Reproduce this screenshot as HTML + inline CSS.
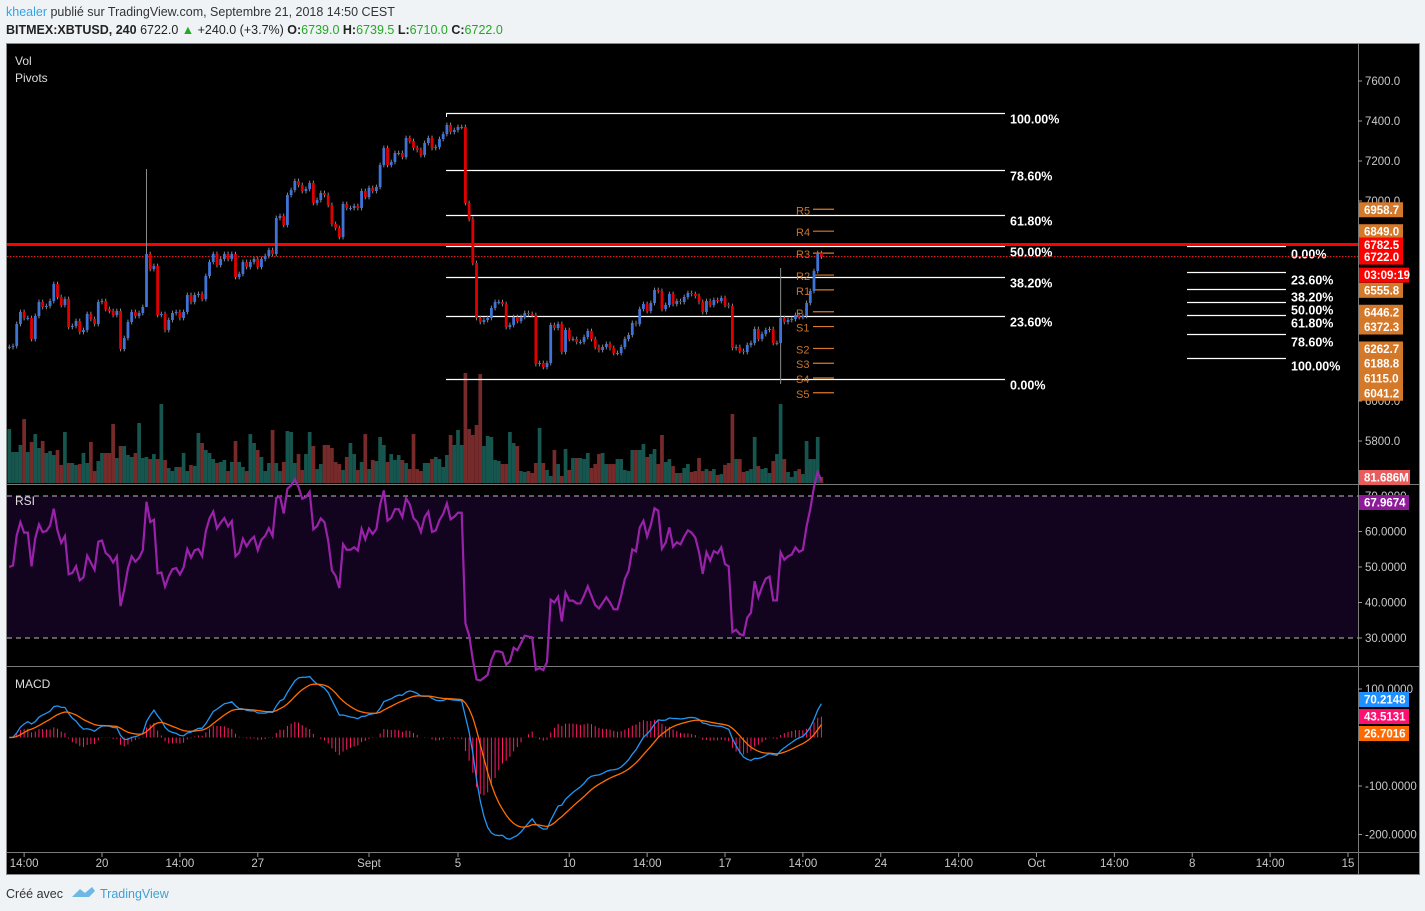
<!DOCTYPE html>
<html><head><meta charset="utf-8"><style>
html,body{margin:0;padding:0;background:#f0f3f6;}
svg{display:block;font-family:"Liberation Sans",sans-serif;}
</style></head><body>
<svg id="c" width="1425" height="911" viewBox="0 0 1425 911">
<text x="6" y="16" font-size="12.5" fill="#333"><tspan fill="#2fa4e7">khealer</tspan> publié sur TradingView.com, Septembre 21, 2018 14:50 CEST</text>
<text x="6" y="34" font-size="12.5" fill="#222"><tspan font-weight="bold">BITMEX:XBTUSD, 240</tspan> 6722.0 <tspan fill="#22aa22">▲</tspan> +240.0 (+3.7%) <tspan font-weight="bold">O:</tspan><tspan fill="#22a822">6739.0</tspan> <tspan font-weight="bold">H:</tspan><tspan fill="#22a822">6739.5</tspan> <tspan font-weight="bold">L:</tspan><tspan fill="#22a822">6710.0</tspan> <tspan font-weight="bold">C:</tspan><tspan fill="#22a822">6722.0</tspan></text>
<rect x="6.5" y="43.5" width="1413" height="831" fill="#000" stroke="#8a8a8a"/>
<g id="g"></g>
<text x="6" y="898" font-size="12.5" fill="#333">Créé avec</text>
<g><path d="M72 897 l8 -8 l5 4 l7 -6 l3 4 l-6 6 z" fill="#6db8e6"/><text x="100" y="898" font-size="12.5" fill="#3ea0d6">TradingView</text></g>
</svg>
<script>
const closes=[6270,6275,6385,6445,6415,6415,6310,6425,6495,6470,6475,6500,6585,6520,6480,6510,6370,6375,6400,6345,6355,6435,6410,6385,6495,6500,6460,6450,6430,6450,6260,6315,6395,6445,6425,6440,6470,6735,6660,6675,6430,6435,6355,6405,6440,6445,6415,6445,6530,6495,6530,6535,6510,6625,6695,6735,6680,6710,6735,6710,6735,6620,6635,6695,6670,6695,6710,6670,6710,6725,6755,6735,6915,6925,6880,7030,7055,7100,7080,7050,7060,7090,6990,7005,7040,7030,6980,6885,6865,6820,6985,6965,6965,6975,6965,7050,7020,7065,7050,7070,7180,7265,7180,7195,7240,7240,7220,7315,7300,7265,7255,7230,7290,7315,7265,7270,7310,7335,7380,7345,7355,7370,7370,6990,
6910,6690,6415,6395,6405,6415,6465,6495,6495,6485,6370,6380,6420,6400,6420,6440,6435,6430,6185,6190,6170,6190,6380,6365,6385,6245,6355,6310,6310,6295,6295,6320,6350,6310,6270,6255,6270,6285,6265,6240,6240,6270,6310,6330,6390,6385,6460,6485,6450,6490,6555,6550,6460,6480,6535,6485,6500,6495,6520,6540,6535,6525,6495,6445,6500,6480,6505,6500,6515,6480,6475,6265,6270,6250,6245,6280,6290,6360,6310,6335,6355,6360,6290,6290,6415,6395,6405,6410,6430,6420,6425,6490,6550,6650,6740,6722];
const volumes=[734,422,422,517,870,422,558,666,476,571,408,435,381,449,245,694,272,272,245,258,408,272,558,163,299,408,408,408,802,340,503,503,381,354,408,816,340,354,326,394,326,1074,313,204,163,218,218,408,163,245,231,680,544,449,408,326,272,286,313,163,286,571,286,218,163,666,544,449,354,163,272,721,272,163,286,707,694,272,394,177,394,694,503,190,258,517,517,476,286,258,177,354,544,394,177,286,666,190,313,299,626,517,286,394,313,381,313,272,190,666,190,163,272,272,326,354,326,218,381,653,517,721,517,1496,
734,653,789,1482,503,639,626,313,299,258,258,694,544,503,163,150,163,136,272,748,272,177,95,449,258,95,462,177,340,340,340,326,408,204,258,394,408,258,258,258,326,326,177,163,449,449,449,530,354,394,462,258,653,286,326,231,136,136,204,258,150,163,340,163,190,163,190,109,122,245,272,938,326,326,150,163,190,626,231,190,204,136,299,394,1074,326,150,82,163,190,122,571,326,326,626,81.686];
const spikeIdx=[37,208];
const spikeHigh=[7160,6665];
const spikeLow=[6640,6085];
const priceTicks=[7600,7400,7200,7000,6000,5800];
const rsiTicks=[70,60,50,40,30];
const macdTicks=[100,-100,-200];
const timeLabels=["14:00","20","14:00","27","Sept","5","10","14:00","17","14:00","24","14:00","Oct","14:00","8","14:00","15"];
const timeDays=[-15.5,-12,-8.5,-5,0,4,9,12.5,16,19.5,23,26.5,30,33.5,37,40.5,44];
const fibLevels=[1,0.786,0.618,0.5,0.382,0.236,0];
const fibLabels=["100.00%","78.60%","61.80%","50.00%","38.20%","23.60%","0.00%"];
const fibLow=6110, fibHigh=7440;
const fib2Levels=[0,0.236,0.382,0.5,0.618,0.786,1];
const fib2Labels=["0.00%","23.60%","38.20%","50.00%","61.80%","78.60%","100.00%"];
const fib2Start=6775, fib2End=6215;
const pivotNames=["R5","R4","R3","R2","R1","P","S1","S2","S3","S4","S5"];
const pivotValues=[6958.7,6849.0,6739.3,6629.7,6555.8,6446.2,6372.3,6262.7,6188.8,6115.0,6041.2];
const pivotAxisLabels=["6958.7","6849.0","","","6555.8","6446.2","6372.3","6262.7","6188.8","6115.0","6041.2"];
const resistance=6782.5, lastPrice=6722.0;

const NS="http://www.w3.org/2000/svg";
const G=document.getElementById('g');
function el(tag,attrs,parent,text){const e=document.createElementNS(NS,tag);for(const k in attrs)e.setAttribute(k,attrs[k]);if(text!==undefined)e.textContent=text;(parent||G).appendChild(e);return e;}
const X=i=>369+(i-97)/6*22.25;
const XD=d=>369+d*22.25;
const PY=p=>121+(7400-p)/5;
const RY=v=>638-(v-30)*3.55;
const MY=v=>737.5-v*0.485;
const VY=v=>483-v/13.6;
const PL=7, PR=1358;

let r=el('rect',{x:PL,y:RY(70),width:PR-PL,height:RY(30)-RY(70),fill:'#12041e'});



[[PL,484.5,1419,484.5],[PL,666.5,1419,666.5],[PL,852.5,1419,852.5],[PR+0.5,44,PR+0.5,874]].forEach(a=>{
 const l=el('line',{x1:a[0],y1:a[1],x2:a[2],y2:a[3],stroke:'#7a7a7a','stroke-width':1});
 
 
});

const opens=closes.map((c,i)=>i?closes[i-1]:c);
volumes.forEach((v,i)=>{
 const up=closes[i]>=opens[i];
 const b=el('rect',{x:X(i)-1.85,y:VY(v),width:3.7,height:483-VY(v),fill:up?'#17554f':'#762a2a'});
 
 
});

fibLevels.forEach((f,k)=>{
 const p=fibLow+(fibHigh-fibLow)*f, y=Math.round(PY(p))+0.5;
 const l=el('line',{x1:446,y1:y,x2:1005,y2:y,stroke:'#fff','stroke-width':1.2});
 
 
 const t=el('text',{x:1010,y:y+10,fill:'#fff','font-size':12.5,'font-weight':'bold'},G,fibLabels[k]);
 
 
});
el('line',{x1:446.5,y1:PY(fibHigh),x2:446.5,y2:PY(fibHigh)+4,stroke:'#fff'});
fib2Levels.forEach((f,k)=>{
 const p=fib2Start+(fib2End-fib2Start)*f, y=Math.round(PY(p))+0.5;
 const l=el('line',{x1:1187,y1:y,x2:1286,y2:y,stroke:'#fff','stroke-width':1.2});
 
 
 const t=el('text',{x:1291,y:y+12,fill:'#fff','font-size':12.5,'font-weight':'bold'},G,fib2Labels[k]);
 
 
});

pivotValues.forEach((p,k)=>{
 const y=PY(p);
 const l=el('line',{x1:813,y1:y,x2:834,y2:y,stroke:'#d9782a','stroke-width':1.2});
 
 
 const t=el('text',{x:796,y:y+5,fill:'#c8752e','font-size':11},G,pivotNames[k]);
 
 
});

let rl=el('line',{x1:PL,y1:PY(resistance),x2:PR,y2:PY(resistance),stroke:'#ff0000','stroke-width':3});


let lp=el('line',{x1:PL,y1:PY(lastPrice),x2:PR,y2:PY(lastPrice),stroke:'#ff2020','stroke-width':1,'stroke-dasharray':'1.5,1.5'});



closes.forEach((c,i)=>{
 const o=opens[i];
 let hi=Math.max(o,c)+12, lo=Math.min(o,c)-12;
 const s=spikeIdx.indexOf(i);
 if(s>=0){hi=spikeHigh[s];lo=spikeLow[s];}
 const x=X(i);
 const w=el('line',{x1:x,y1:PY(hi),x2:x,y2:PY(lo),stroke:'#8a8a8a','stroke-width':1});
 
 
 const up=c>=o;
 const y1=PY(Math.max(o,c)), y2=PY(Math.min(o,c));
 const b=el('rect',{x:x-1.4,y:y1,width:2.8,height:Math.max(1,y2-y1),fill:up?'#3f74d6':'#e00000'});
 
 
});

const rsi=[];let ag=22,al=22;
closes.forEach((c,i)=>{if(i>0){const d=c-closes[i-1];ag=(ag*13+Math.max(d,0))/14;al=(al*13+Math.max(-d,0))/14;}rsi.push(100-100/(1+ag/al));});
[70,30].forEach(v=>{const l=el('line',{x1:PL,y1:RY(v),x2:PR,y2:RY(v),stroke:'#bbb','stroke-dasharray':'5,4'});
 
 });
let rp=el('polyline',{points:rsi.map((v,i)=>X(i)+','+RY(v)).join(' '),fill:'none',stroke:'#9a22aa','stroke-width':2.2});



function ema(a,n){const k=2/(n+1);const o=[];a.forEach((v,i)=>o.push(i?v*k+o[i-1]*(1-k):v));return o;}
const e12=ema(closes,12),e26=ema(closes,26);
const macd=e12.map((v,i)=>v-e26[i]);const sig=ema(macd,9);
macd.forEach((m,i)=>{const h=m-sig[i];const b=el('line',{x1:X(i),y1:MY(0),x2:X(i),y2:MY(h),stroke:'#ff1a6a','stroke-width':1});
 
 });
let mp=el('polyline',{points:macd.map((v,i)=>X(i)+','+MY(v)).join(' '),fill:'none',stroke:'#2196f3','stroke-width':1.3});


let sp=el('polyline',{points:sig.map((v,i)=>X(i)+','+MY(v)).join(' '),fill:'none',stroke:'#ff6d00','stroke-width':1.3});



function axisLabel(y,txt){el('line',{x1:PR,y1:y,x2:PR+4,y2:y,stroke:'#999'});const t=el('text',{x:1365,y:y+4,fill:'#c8c8c8','font-size':11.5},G,txt);
 
 }
priceTicks.forEach(p=>axisLabel(PY(p),p.toFixed(1)));
rsiTicks.forEach(v=>axisLabel(RY(v),v.toFixed(4)));
macdTicks.forEach(v=>axisLabel(MY(v),v.toFixed(4)));
timeLabels.forEach((t,k)=>{const x=XD(timeDays[k]);el('line',{x1:x,y1:853,x2:x,y2:857,stroke:'#999'});
 const tt=el('text',{x:x,y:867,fill:'#c8c8c8','font-size':11.5,'text-anchor':'middle'},G,t);
 
 });

function tag(y,txt,bg,w){const r=el('rect',{x:PR+1,y:y-7,width:w||44,height:15,fill:bg});
 
 
 el('text',{x:PR+6,y:y+4.5,fill:'#fff','font-size':11.5,'font-weight':'bold'},G,txt);}
pivotValues.forEach((p,k)=>{if(pivotAxisLabels[k])tag(PY(p),pivotAxisLabels[k],'#d4782a');});
tag(PY(resistance),'6782.5','#ff0000');
tag(PY(lastPrice),'6722.0','#ff0000');
tag(PY(lastPrice)+18,'03:09:19','#ff0000',50);
tag(477,'81.686M','#e85c5c',51);
tag(502,'67.9674','#8e1a9a',50);
tag(699,'70.2148','#1e90ff',50);
tag(716,'43.5131','#ff1070',50);
tag(733,'26.7016','#ff6a00',50);

[['Vol',15,65],['Pivots',15,82],['RSI',15,505],['MACD',15,688]].forEach(a=>{const t=el('text',{x:a[1],y:a[2],fill:'#ddd','font-size':12},G,a[0]);
 
 });
</script>
</body></html>
